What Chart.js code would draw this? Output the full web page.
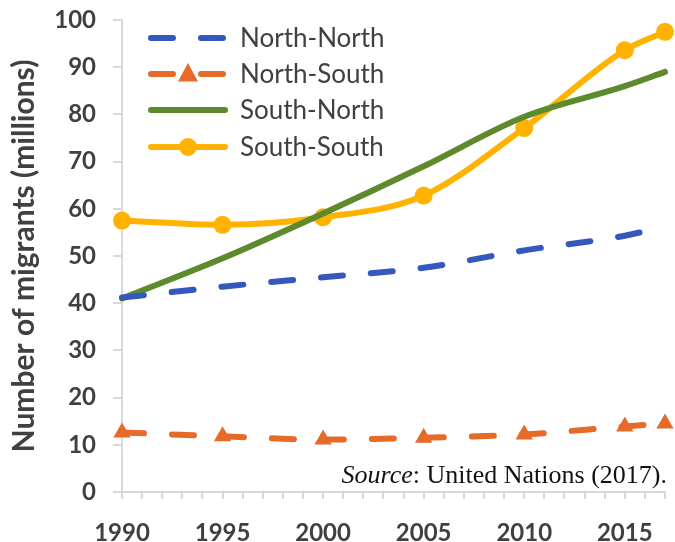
<!DOCTYPE html>
<html>
<head>
<meta charset="utf-8">
<script src="https://cdn.jsdelivr.net/npm/chart.js@4/dist/chart.umd.min.js"></script>
<style>
html,body{margin:0;padding:0;background:#fff;}
#wrap{width:675px;height:542px;position:relative;}
</style>
</head>
<body>
<div id="wrap"><canvas id="c" width="675" height="542"></canvas></div>
<script>
const years = [1990, 1995, 2000, 2005, 2010, 2015, 2017];
const northNorth = [41.2, 43.5, 45.5, 47.5, 51.2, 54.3, 56.3];
const northSouth = [12.6, 11.8, 11.1, 11.5, 12.2, 13.9, 14.5];
const southNorth = [41.0, 49.5, 59.0, 69.0, 79.5, 86.0, 89.0];
const southSouth = [57.5, 56.6, 58.2, 62.8, 77.1, 93.6, 97.5];
const seriesNames = ['North-North', 'North-South', 'South-North', 'South-South'];
const xTickLabels = [1990, 1995, 2000, 2005, 2010, 2015];
const yAxisTitle = 'Number of migrants (millions)';
const sourceLabel = 'Source';
const sourceRest = ': United Nations (2017).';

const colors = ['#3558BE', '#E66A28', '#5E8A2E', '#FFB300'];
const txt = '#404040';

function pts(arr){ return years.map((y,i)=>({x:y, y:arr[i]})); }

const legendPlugin = {
  id: 'insideLegend',
  afterDraw(chart){
    const ctx = chart.ctx;
    const x0 = 148, x1 = 228, tx = 240;
    const rows = [38, 74, 110, 147];
    chart.data.datasets.forEach((ds, i) => {
      const y = rows[i];
      ctx.save();
      ctx.strokeStyle = ds.borderColor;
      ctx.lineWidth = ds.borderWidth;
      ctx.lineCap = 'round';
      ctx.setLineDash(ds.borderDash || []);
      ctx.beginPath();
      ctx.moveTo(x0 + 3, y);
      ctx.lineTo(x1 - 3, y);
      ctx.stroke();
      ctx.setLineDash([]);
      if (ds.pointRadius > 0) {
        ctx.fillStyle = ds.pointBackgroundColor;
        const cx = (x0 + x1) / 2;
        if (ds.pointStyle === 'triangle') {
          const r = ds.pointRadius;
          ctx.beginPath();
          ctx.moveTo(cx, y - r * 1.1);
          ctx.lineTo(cx + r, y + r * 0.75);
          ctx.lineTo(cx - r, y + r * 0.75);
          ctx.closePath();
          ctx.fill();
        } else {
          ctx.beginPath();
          ctx.arc(cx, y, ds.pointRadius, 0, Math.PI * 2);
          ctx.fill();
        }
      }
      ctx.fillStyle = txt;
      ctx.font = '26px Lato';
      ctx.textBaseline = 'middle';
      ctx.textAlign = 'left';
      ctx.fillText(ds.label, tx, y + 1);
      ctx.restore();
    });
    // source note
    ctx.save();
    ctx.fillStyle = '#111';
    ctx.textBaseline = 'alphabetic';
    const fs = 26;
    ctx.font = 'italic ' + fs + 'px "Liberation Serif"';
    const w1 = ctx.measureText(sourceLabel).width;
    ctx.font = fs + 'px "Liberation Serif"';
    const w2 = ctx.measureText(sourceRest).width;
    const right = 667, base = 483;
    const start = right - w1 - w2;
    ctx.font = 'italic ' + fs + 'px "Liberation Serif"';
    ctx.fillText(sourceLabel, start, base);
    ctx.font = fs + 'px "Liberation Serif"';
    ctx.fillText(sourceRest, start + w1, base);
    ctx.restore();
  }
};

const dashLen = [22, 28];

new Chart(document.getElementById('c'), {
  type: 'line',
  data: {
    datasets: [
      { label: seriesNames[0], data: pts(northNorth), borderColor: colors[0], backgroundColor: colors[0],
        borderWidth: 6, borderDash: dashLen, borderCapStyle: 'round', pointRadius: 0, pointBackgroundColor: colors[0] },
      { label: seriesNames[1], data: pts(northSouth), borderColor: colors[1], backgroundColor: colors[1],
        borderWidth: 6, borderDash: dashLen, borderCapStyle: 'round', pointStyle: 'triangle', pointRadius: 10,
        pointBackgroundColor: colors[1], pointBorderWidth: 0, pointBorderColor: colors[1] },
      { label: seriesNames[2], data: pts(southNorth), borderColor: colors[2], backgroundColor: colors[2],
        borderWidth: 6, borderCapStyle: 'round', pointRadius: 0, pointBackgroundColor: colors[2] },
      { label: seriesNames[3], data: pts(southSouth), borderColor: colors[3], backgroundColor: colors[3],
        borderWidth: 6, borderCapStyle: 'round', pointStyle: 'circle', pointRadius: 9,
        pointBackgroundColor: colors[3], pointBorderWidth: 0, pointBorderColor: colors[3] }
    ]
  },
  options: {
    responsive: false,
    animation: false,
    clip: false,
    layout: { padding: { top: 20, right: 10, left: 0, bottom: 0 } },
    elements: { line: { tension: 0.4, cubicInterpolationMode: 'monotone' } },
    plugins: { legend: { display: false }, tooltip: { enabled: false } },
    scales: {
      x: {
        type: 'linear', min: 1990, max: 2017,
        afterFit(s){ s.height = 50; s.paddingLeft = 0; s.paddingRight = 0; },
        border: { color: '#d9d9d9', width: 2 },
        grid: { drawOnChartArea: false, drawTicks: true, tickLength: 7, color: '#d9d9d9', lineWidth: 2 },
        afterBuildTicks(s){ const t=[]; for(let v=1990; v<=2017; v++) t.push({value:v}); s.ticks = t; },
        ticks: {
          autoSkip: false, maxRotation: 0, padding: 20,
          color: txt, font: { family: 'Lato', weight: 'bold', size: 24 },
          callback(v){ return xTickLabels.includes(v) ? String(v) : ''; }
        }
      },
      y: {
        min: 0, max: 100,
        afterFit(s){ s.width = 122; s.paddingTop = 0; s.paddingBottom = 0; },
        border: { color: '#d9d9d9', width: 2 },
        grid: { drawOnChartArea: false, drawTicks: true, tickLength: 9, color: '#d9d9d9', lineWidth: 2 },
        ticks: { stepSize: 10, padding: 17, color: txt, font: { family: 'Lato', weight: 'bold', size: 24 } },
        title: { display: true, text: yAxisTitle, color: txt, padding: { top: 6, bottom: 0 },
          font: { family: 'Lato', weight: 'bold', size: 30 } }
      }
    }
  },
  plugins: [legendPlugin]
});
</script>
</body>
</html>
